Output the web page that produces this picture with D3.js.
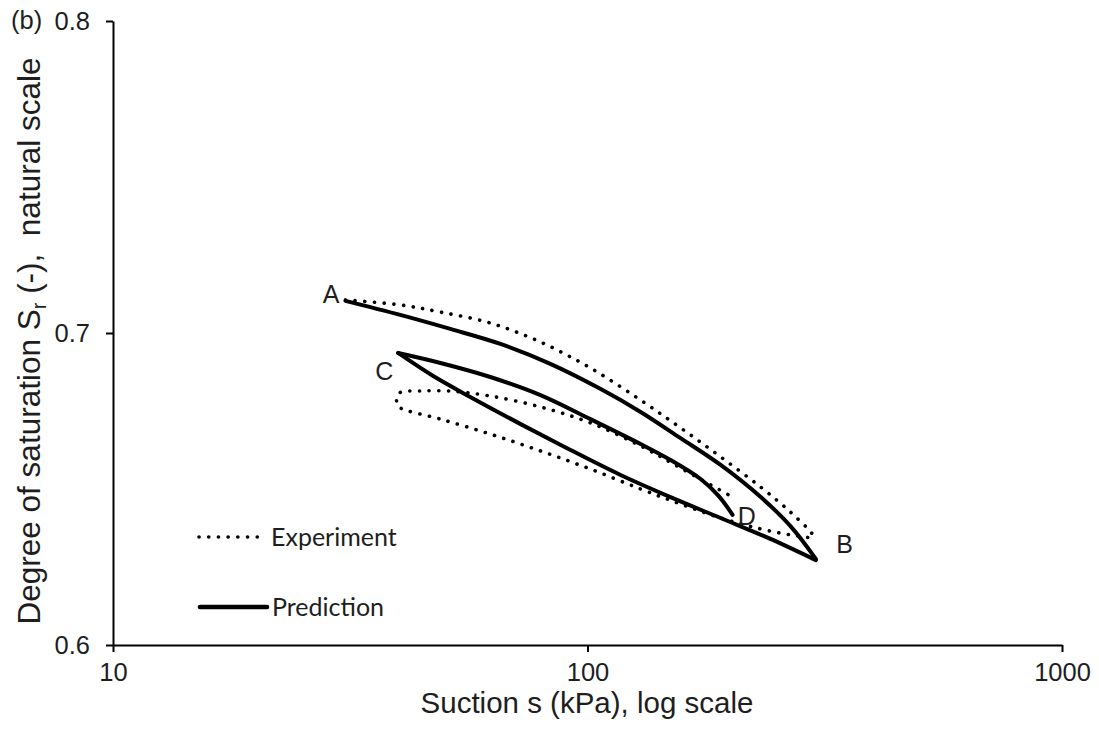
<!DOCTYPE html>
<html>
<head>
<meta charset="utf-8">
<script src="https://cdn.jsdelivr.net/npm/d3@7"></script>
<style>
  html, body { margin: 0; padding: 0; background: #fff; }
  svg { display: block; }
  text { white-space: pre; }
</style>
</head>
<body>
<svg id="chart" width="1099" height="731"></svg>
<script>
// ---------- data ----------
const xTicks = [10, 100, 1000];
const yTicks = [0.6, 0.7, 0.8];

// Prediction (solid): A -> B (drying)
const predSuctionAB = [30.9, 40.3, 51.4, 65.5, 83.5, 106.4, 129.4, 157.1, 190.8, 231.8, 267.8, 302.8];
const predSrAB      = [0.7103, 0.7058, 0.7013, 0.6965, 0.6901, 0.6821, 0.6747, 0.6663, 0.6577, 0.6474, 0.6381, 0.6276];
// Prediction: B -> C (wetting)
const predSuctionBC = [302.8, 243, 190.8, 149.6, 117.4, 92.1, 72.3, 56.6, 47.3, 39.9];
const predSrBC      = [0.6272, 0.6340, 0.6407, 0.6474, 0.6545, 0.6625, 0.6708, 0.6795, 0.6862, 0.6936];
// Prediction: C -> D (drying)
const predSuctionCD = [39.9, 49.0, 62.4, 79.6, 101.4, 129.4, 149.6, 173.1, 188.9, 202.2];
const predSrCD      = [0.6936, 0.6904, 0.6859, 0.6801, 0.6724, 0.6644, 0.6593, 0.6532, 0.6478, 0.6417];

// Experiment (dotted): A -> B
const expSuctionAB = [30.9, 40.3, 49.0, 62.4, 79.6, 101.4, 129.4, 157.1, 190.8, 231.8, 267.8, 298.3];
const expSrAB      = [0.7106, 0.7090, 0.7067, 0.7032, 0.6971, 0.6888, 0.6785, 0.6696, 0.6603, 0.6506, 0.6426, 0.6353];
// Experiment: B -> C
const expSuctionBC = [298.3, 267.8, 231.8, 190.8, 157.1, 129.4, 101.4, 79.6, 62.4, 49.0, 40.3, 39.7, 39.7];
const expSrBC      = [0.6346, 0.6353, 0.6372, 0.6407, 0.6452, 0.6500, 0.6564, 0.6622, 0.6676, 0.6724, 0.6760, 0.6772, 0.6798];
// Experiment: C -> D
const expSuctionCD = [40.5, 44.4, 51.4, 62.4, 79.6, 101.4, 129.4, 157.1, 202.2];
const expSrCD      = [0.6811, 0.6814, 0.6814, 0.6798, 0.6763, 0.6712, 0.6638, 0.6567, 0.6474];

// point labels
const pointNames   = ["A", "B", "C", "D"];
const pointSuction = [28.8, 348, 37.3, 216.5];
const pointSr      = [0.7096, 0.6295, 0.6849, 0.6385];

const legendNames = ["Experiment", "Prediction"];

// ---------- drawing ----------
const svg = d3.select("#chart");
const x = d3.scaleLog().domain([10, 1000]).range([113, 1062]);
const y = d3.scaleLinear().domain([0.6, 0.8]).range([645, 21]);

const zip = (a, b) => a.map((v, i) => [v, b[i]]);
const line = d3.line().x(d => x(d[0])).y(d => y(d[1])).curve(d3.curveCatmullRom.alpha(0.5));

const tickFont = "Liberation Sans, Arial, sans-serif";
const txtColor = "#1e1e1e";

// axes
const xAxis = d3.axisBottom(x).tickValues(xTicks).tickFormat(d3.format("d"))
  .tickSizeInner(7).tickSizeOuter(0).tickPadding(11);
const yAxis = d3.axisLeft(y).tickValues(yTicks).tickFormat(d3.format(".1f"))
  .tickSizeInner(7).tickSizeOuter(0).tickPadding(16);

const gx = svg.append("g").attr("transform", `translate(0,${y(0.6)})`).call(xAxis);
const gy = svg.append("g").attr("transform", `translate(${x(10)},0)`).call(yAxis);
[gx, gy].forEach(g => {
  g.select(".domain").attr("stroke", "#000").attr("stroke-width", 2);
  g.selectAll(".tick line").attr("stroke", "#000").attr("stroke-width", 2);
  g.selectAll(".tick text").attr("font-family", tickFont).attr("font-size", 25.5).attr("fill", txtColor);
});

// panel label
svg.append("text").attr("x", 11).attr("y", y(0.8)).attr("dy", "0.32em")
  .attr("font-family", tickFont).attr("font-size", 25.5).attr("fill", txtColor).text("(b)");

// axis titles
svg.append("text").attr("x", 587).attr("y", 713).attr("text-anchor", "middle")
  .attr("font-family", tickFont).attr("font-size", 29.5).attr("fill", txtColor)
  .text("Suction s (kPa), log scale");

const yt = svg.append("text").attr("transform", "translate(39.5,341) rotate(-90)")
  .attr("text-anchor", "middle").attr("font-family", tickFont).attr("font-size", 31.5).attr("fill", txtColor);
yt.append("tspan").text("Degree of saturation S");
yt.append("tspan").attr("font-size", 20).attr("dy", 6).text("r");
yt.append("tspan").attr("dy", -6).text(" (-),  natural scale");

// curves
const solidStyle = (p, w) => p.attr("fill", "none").attr("stroke", "#000").attr("stroke-width", w || 4)
  .attr("stroke-linejoin", "round").attr("stroke-linecap", "round");
const dotStyle = p => p.attr("fill", "none").attr("stroke", "#000").attr("stroke-width", 3.6)
  .attr("stroke-linecap", "round").attr("stroke-dasharray", "0.1 9.6");

const expPts = zip(expSuctionAB, expSrAB).concat(zip(expSuctionBC, expSrBC)).concat(zip(expSuctionCD, expSrCD));
svg.append("path").attr("d", line(expPts)).call(dotStyle);

svg.append("path").attr("d", line(zip(predSuctionAB, predSrAB))).call(solidStyle);
svg.append("path").attr("d", line(zip(predSuctionBC, predSrBC))).call(solidStyle);
svg.append("path").attr("d", line(zip(predSuctionCD, predSrCD))).call(solidStyle);

// point labels
svg.selectAll("text.pt").data(pointNames).enter().append("text").attr("class", "pt")
  .attr("x", (d, i) => x(pointSuction[i])).attr("y", (d, i) => y(pointSr[i]))
  .attr("text-anchor", "middle").attr("font-family", tickFont).attr("font-size", 25).attr("fill", txtColor)
  .text(d => d);

// legend
const legFont = "Lato, Carlito, sans-serif";
const lg = svg.append("g");
lg.append("line").attr("x1", 199).attr("x2", 262).attr("y1", 537).attr("y2", 537).call(dotStyle);
lg.append("line").attr("x1", 200).attr("x2", 267).attr("y1", 607).attr("y2", 607).call(solidStyle, 4.6);
lg.selectAll("text").data(legendNames).enter().append("text")
  .attr("x", (d, i) => i === 0 ? 271 : 272).attr("y", (d, i) => i === 0 ? 546 : 616)
  .attr("font-family", legFont).attr("font-size", 25).attr("fill", txtColor).text(d => d);
</script>
</body>
</html>
